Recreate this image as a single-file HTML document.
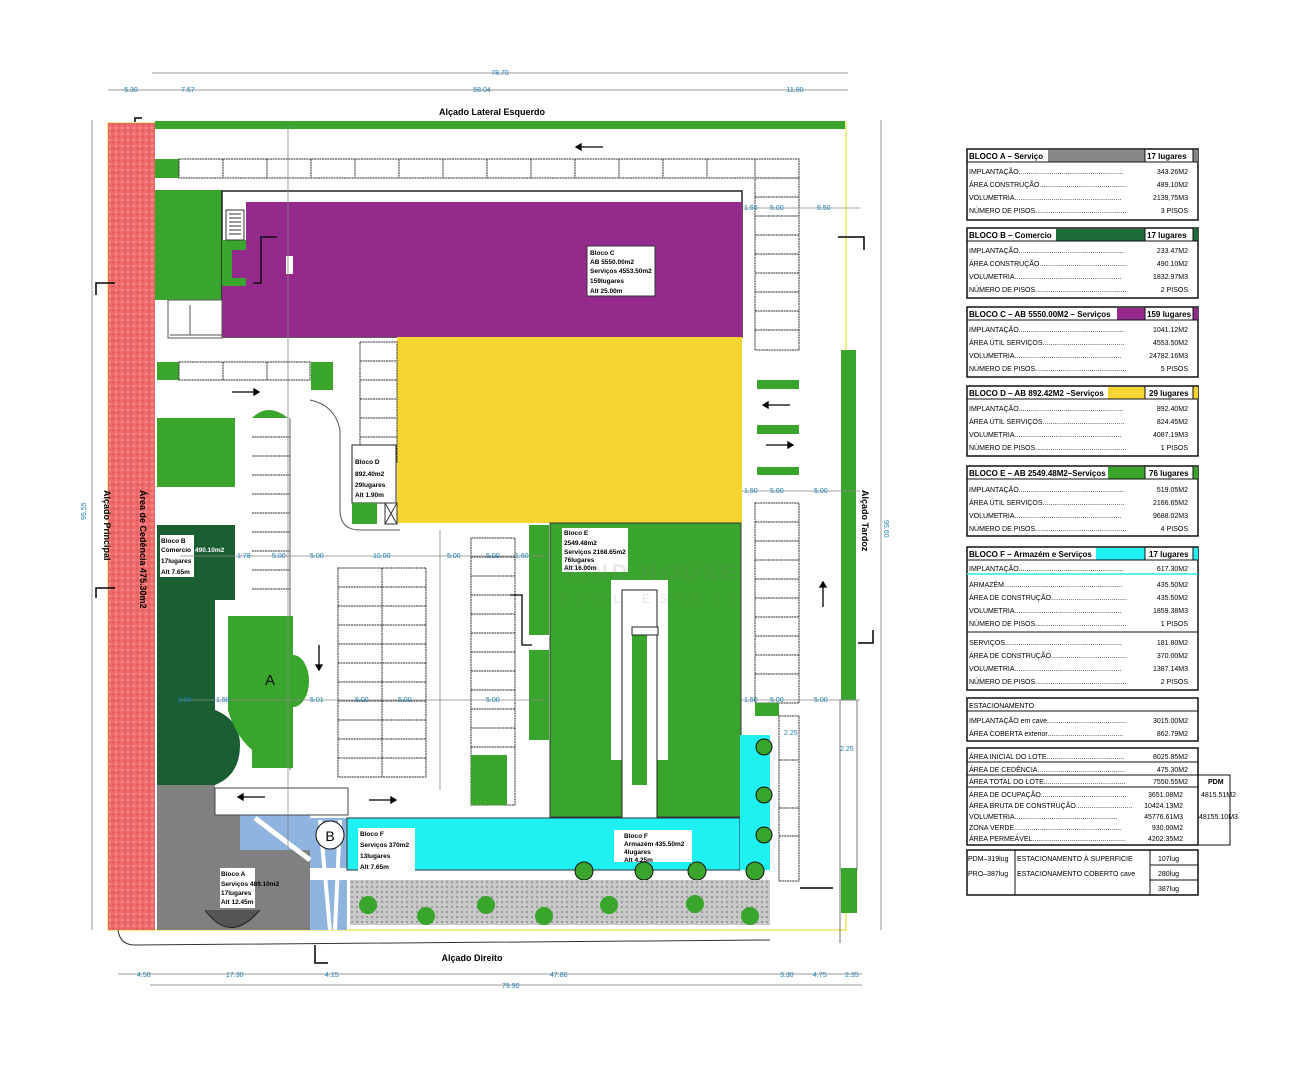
<!DOCTYPE html>
<html><head><meta charset="utf-8"><style>
html,body{margin:0;padding:0;background:#fff;}
svg{display:block;}
text{font-family:"Liberation Sans Narrow","Liberation Sans",sans-serif;}
.d{fill:#1a7fb5;font-size:7px;}
.t{font-size:8px;font-weight:bold;fill:#000;}
.r{font-size:7px;fill:#000;}
.l{font-size:6.5px;fill:#000;font-weight:bold;}
.pk{stroke:#333;stroke-width:1;fill:none;stroke-dasharray:2 0.6;}
</style></head><body>
<svg width="1305" height="1080" viewBox="0 0 1305 1080" xmlns="http://www.w3.org/2000/svg">
<defs>
<pattern id="red" width="6" height="6" patternUnits="userSpaceOnUse"><rect width="6" height="6" fill="#ee6b6b"/><circle cx="2" cy="2" r="1" fill="#f7a0a0"/><circle cx="5" cy="4.5" r="0.8" fill="#d94a4a"/></pattern>
<pattern id="gr" width="5" height="5" patternUnits="userSpaceOnUse"><rect width="5" height="5" fill="#c8c8c8"/><rect x="1" y="1" width="2" height="2" fill="#9a9a9a"/></pattern>
</defs>

<!-- top dimensions -->
<line x1="152" y1="73" x2="848" y2="73" stroke="#999" stroke-width="1"/>
<text class="d" x="500" y="75" text-anchor="middle">78.70</text>
<line x1="108" y1="90" x2="848" y2="90" stroke="#999" stroke-width="1"/>
<text class="d" x="131" y="92" text-anchor="middle">5.30</text>
<text class="d" x="188" y="92" text-anchor="middle">7.67</text>
<text class="d" x="482" y="92" text-anchor="middle">58.04</text>
<text class="d" x="795" y="92" text-anchor="middle">11.90</text>
<text x="492" y="115" text-anchor="middle" style="font-size:9px;font-weight:bold">Alçado Lateral Esquerdo</text>
<path d="M135 125 V118 H142" stroke="#000" fill="none" stroke-width="1.5"/>

<!-- site -->
<rect x="108" y="123" width="738" height="807" fill="#fff" stroke="#f2ee8a" stroke-width="2"/>
<rect x="108" y="123" width="47" height="807" fill="url(#red)"/>
<rect x="155" y="121" width="690" height="8" fill="#3aa52d"/>

<!-- top parking row -->
<rect x="155" y="159" width="24" height="19" fill="#3aa52d"/>
<rect x="179" y="159" width="620" height="19" class="pk"/>
<g class="pk"><path d="M223 159v19M267 159v19M311 159v19M355 159v19M399 159v19M443 159v19M487 159v19M531 159v19M575 159v19M619 159v19M663 159v19M707 159v19M755 159v19"/></g>

<!-- left greens -->
<rect x="155" y="190" width="67" height="110" fill="#3aa52d"/>
<rect x="157" y="362" width="22" height="18" fill="#3aa52d"/>
<rect x="179" y="362" width="131" height="18" class="pk"/>
<path class="pk" d="M223 362v18M267 362v18"/>
<rect x="157" y="418" width="78" height="69" fill="#3aa52d"/>
<rect x="311" y="362" width="22" height="28" fill="#3aa52d"/>
<path d="M252 418 Q268 402 288 418 Z" fill="#3aa52d"/>
<g class="pk"><path d="M252 437h38M252 456h38M252 475h38M252 494h38M252 513h38M252 532h38M252 551h38M252 570h38M252 589h38"/></g>
<line x1="290" y1="418" x2="290" y2="770" stroke="#666"/>
<path d="M310 400 Q335 405 340 430 V510 Q340 530 360 530 H400" stroke="#555" fill="none"/>

<!-- building C -->
<rect x="222" y="191" width="520" height="146" fill="#fff" stroke="#222" stroke-width="1.5"/>
<rect x="246" y="202" width="496" height="135" fill="#932a8c"/>
<rect x="222" y="286" width="30" height="51" fill="#932a8c"/>
<rect x="222" y="240" width="24" height="46" fill="#3aa52d"/>
<rect x="232" y="250" width="14" height="28" fill="#932a8c"/>
<rect x="226" y="210" width="18" height="30" fill="#fff" stroke="#333"/>
<path d="M229 214h12M229 218h12M229 222h12M229 226h12M229 230h12M229 234h12" stroke="#333"/>
<path d="M277 237h-16v46h-8" stroke="#111" stroke-width="1.5" fill="none"/>
<rect x="168" y="300" width="54" height="38" fill="#fff" stroke="#555"/>
<path d="M170 335h52M190 305v30" stroke="#555"/>
<rect x="587" y="246" width="68" height="50" fill="#fff" stroke="#333"/>
<text class="l" x="590" y="255">Bloco C</text><text class="l" x="590" y="264">AB 5550.00m2</text><text class="l" x="590" y="273">Serviços 4553.50m2</text><text class="l" x="590" y="283">159lugares</text><text class="l" x="590" y="293">Alt 25.00m</text>
<rect x="286" y="256" width="7" height="18" fill="#fff"/>

<!-- yellow D -->
<rect x="397" y="337" width="345" height="186" fill="#f5d531"/>
<rect x="360" y="342" width="37" height="120" class="pk"/>
<path class="pk" d="M360 361h37M360 380h37M360 399h37M360 418h37M360 437h37"/>
<rect x="352" y="445" width="44" height="58" fill="#fff" stroke="#222"/>
<text class="l" x="355" y="464">Bloco D</text><text class="l" x="355" y="476">892.40m2</text><text class="l" x="355" y="487">29lugares</text><text class="l" x="355" y="497">Alt 1.90m</text>
<rect x="352" y="503" width="25" height="21" fill="#3aa52d"/>
<rect x="385" y="503" width="12" height="21" fill="#fff" stroke="#333"/>
<path d="M385 503l12 21M397 503l-12 21" stroke="#333"/>

<!-- right parking -->
<rect x="755" y="178" width="44" height="172" class="pk"/>
<path class="pk" d="M755 197h44M755 216h44M755 235h44M755 254h44M755 273h44M755 292h44M755 311h44M755 330h44"/>
<rect x="757" y="380" width="42" height="9" fill="#3aa52d"/>
<rect x="757" y="425" width="42" height="9" fill="#3aa52d"/>
<rect x="757" y="467" width="42" height="8" fill="#3aa52d"/>
<rect x="755" y="503" width="44" height="200" class="pk"/>
<path class="pk" d="M755 522h44M755 541h44M755 560h44M755 579h44M755 598h44M755 617h44M755 636h44M755 655h44M755 674h44"/>
<rect x="755" y="703" width="24" height="13" fill="#3aa52d"/>
<rect x="779" y="716" width="20" height="165" class="pk"/>
<path class="pk" d="M779 760h20M779 808h20M779 836h20"/>
<rect x="841" y="350" width="15" height="353" fill="#3aa52d"/>
<rect x="840" y="700" width="17" height="170" fill="#fff" stroke="#777"/>
<rect x="841" y="868" width="16" height="45" fill="#3aa52d"/>
<line x1="800" y1="888" x2="833" y2="888" stroke="#000" stroke-width="1.5"/>
<line x1="840" y1="870" x2="840" y2="943" stroke="#777"/>

<!-- Bloco B dark green -->
<path d="M157 525 H235 V600 H215 V710 Q240 720 240 745 Q240 775 215 785 H157 Z" fill="#1b5e33"/>
<rect x="160" y="535" width="65" height="42" fill="#1b5e33"/>
<rect x="160" y="535" width="34" height="42" fill="#fff"/>
<text class="l" x="161" y="543">Bloco B</text><text class="l" x="161" y="552">Comercio</text><text class="l" x="161" y="563">17lugares</text><text class="l" x="161" y="574">Alt 7.65m</text>
<text class="l" x="195" y="552" style="fill:#fff">490.10m2</text>
<path d="M228 616 H293 V768 H252 V750 Q235 735 228 710 Z" fill="#3aa52d"/>
<path d="M293 655 A16 26 0 0 1 293 707 Z" fill="#3aa52d"/>
<text x="270" y="685" text-anchor="middle" style="font-size:15px;fill:#111">A</text>

<!-- grey Bloco A -->
<path d="M157 785 H215 V815 H240 V850 H310 V930 H157 Z" fill="#808080"/>
<rect x="240" y="815" width="70" height="35" fill="#8fb4e0"/>
<path d="M310 818 H347 V930 H310 Z" fill="#8fb4e0"/>
<path d="M255 818 L310 860" stroke="#fff" stroke-width="5"/>
<path d="M320 820 L330 930 M340 820 L335 930" stroke="#fff" stroke-width="4"/>
<rect x="310" y="868" width="37" height="12" fill="#fff"/>
<circle cx="330" cy="835" r="14" fill="#fff" stroke="#111"/>
<text x="330" y="841" text-anchor="middle" style="font-size:14px">B</text>
<rect x="220" y="868" width="35" height="40" fill="#fff"/>
<text class="l" x="221" y="876">Bloco A</text><text class="l" x="221" y="886">Serviços 489.10m2</text><text class="l" x="221" y="895">17lugares</text><text class="l" x="221" y="904">Alt 12.45m</text>
<path d="M205 910 Q230 945 260 910" stroke="#222" fill="#555"/>

<!-- road arrows etc -->
<rect x="215" y="788" width="133" height="27" fill="#fff" stroke="#444"/>
<g stroke="#000" stroke-width="1.3" fill="#000">
<path d="M603 147h-25"/><path d="M576 147l5-3v6z"/>
<path d="M232 392h25"/><path d="M259 392l-5-3v6z"/>
<path d="M790 405h-25"/><path d="M763 405l5-3v6z"/>
<path d="M766 445h25"/><path d="M793 445l-5-3v6z"/>
<path d="M265 797h-25"/><path d="M238 797l5-3v6z"/>
<path d="M369 800h25"/><path d="M396 800l-5-3v6z"/>
<path d="M319 645v22"/><path d="M319 670l-3-5h6z"/>
<path d="M823 607v-22"/><path d="M823 582l-3 5h6z"/>
</g>

<!-- parking grid -->
<rect x="338" y="568" width="88" height="209" class="pk"/>
<path class="pk" d="M382 568v209M338 587h88M338 606h88M338 625h88M338 644h88M338 663h88M338 682h88M338 701h88M338 720h88M338 739h88M338 758h88"/>
<rect x="471" y="538" width="44" height="267" class="pk"/>
<path class="pk" d="M471 557h44M471 576h44M471 595h44M471 614h44M471 633h44M471 652h44M471 671h44M471 690h44M471 709h44M471 728h44M471 747h44"/>
<rect x="471" y="755" width="36" height="50" fill="#3aa52d"/>
<rect x="529" y="525" width="20" height="110" fill="#3aa52d"/>
<rect x="529" y="650" width="20" height="90" fill="#3aa52d"/>
<path d="M510 595h12v50h10" stroke="#000" fill="none" stroke-width="1.3"/>

<!-- Bloco E -->
<rect x="550" y="523" width="191" height="294" fill="#3aa52d" stroke="#333"/>
<rect x="611" y="580" width="57" height="180" fill="#fff"/>
<rect x="622" y="590" width="35" height="230" fill="#fff" stroke="#222"/>
<rect x="632" y="635" width="15" height="150" fill="#3aa52d"/>
<rect x="632" y="627" width="26" height="8" fill="#fff" stroke="#222"/>
<rect x="562" y="528" width="66" height="44" fill="#fff"/>
<text class="l" x="564" y="535">Bloco E</text><text class="l" x="564" y="545">2549.48m2</text><text class="l" x="564" y="554">Serviços 2168.65m2</text><text class="l" x="564" y="562">76lugares</text><text class="l" x="564" y="570">Alt 16.00m</text>
<text x="652" y="580" text-anchor="middle" style="font-size:22px;font-weight:bold;fill:rgba(120,120,120,0.18);letter-spacing:4px">FIND HOUSE</text>
<text x="652" y="603" text-anchor="middle" style="font-size:13px;fill:rgba(120,120,120,0.18);letter-spacing:9px">REAL ESTATE</text>

<!-- Bloco F cyan -->
<rect x="347" y="818" width="393" height="52" fill="#1ff0f2" stroke="#333"/>
<rect x="740" y="735" width="30" height="135" fill="#1ff0f2"/>
<rect x="358" y="828" width="57" height="43" fill="#fff"/>
<text class="l" x="360" y="836">Bloco F</text><text class="l" x="360" y="847">Serviços 370m2</text><text class="l" x="360" y="858">13lugares</text><text class="l" x="360" y="869">Alt 7.65m</text>
<rect x="614" y="830" width="78" height="32" fill="#fff"/>
<text class="l" x="624" y="838">Bloco F</text><text class="l" x="624" y="846">Armazém 435.50m2</text><text class="l" x="624" y="854">4lugares</text><text class="l" x="624" y="862">Alt 4.25m</text>
<g fill="#3aa52d" stroke="#111">
<circle cx="584" cy="871" r="9"/><circle cx="644" cy="871" r="9"/><circle cx="697" cy="871" r="9"/><circle cx="755" cy="871" r="9"/>
<circle cx="764" cy="747" r="8"/><circle cx="764" cy="795" r="8"/><circle cx="764" cy="835" r="8"/>
</g>
<rect x="350" y="880" width="420" height="45" fill="url(#gr)"/>
<g fill="#3aa52d">
<circle cx="368" cy="905" r="9"/><circle cx="426" cy="916" r="9"/><circle cx="486" cy="905" r="9"/><circle cx="544" cy="916" r="9"/>
<circle cx="609" cy="905" r="9"/><circle cx="695" cy="904" r="9"/><circle cx="750" cy="916" r="9"/>
</g>

<!-- dimension chains -->
<g stroke="#888" stroke-width="0.8">
<line x1="288" y1="125" x2="288" y2="850"/><line x1="180" y1="556" x2="545" y2="556"/><line x1="180" y1="700" x2="545" y2="700"/>
<line x1="440" y1="530" x2="440" y2="790"/><line x1="742" y1="208" x2="860" y2="208"/><line x1="742" y1="491" x2="860" y2="491"/><line x1="742" y1="700" x2="860" y2="700"/>
</g>
<g class="d">
<text x="272" y="558">5.00</text><text x="310" y="558">5.00</text><text x="373" y="558">10.00</text><text x="447" y="558">5.00</text><text x="486" y="558">5.00</text><text x="515" y="558">1.60</text><text x="237" y="558">1.78</text>
<text x="178" y="702">6.55</text><text x="216" y="702">1.50</text><text x="310" y="702">5.01</text><text x="355" y="702">5.00</text><text x="398" y="702">5.00</text><text x="486" y="702">5.00</text>
<text x="744" y="210">1.50</text><text x="770" y="210">5.00</text><text x="817" y="210">5.50</text>
<text x="744" y="493">1.50</text><text x="770" y="493">5.00</text><text x="814" y="493">5.00</text>
<text x="744" y="702">1.50</text><text x="770" y="702">5.00</text><text x="814" y="702">5.00</text>
<text x="784" y="735">2.25</text><text x="840" y="751">2.25</text>
</g>

<!-- labels vertical -->
<text transform="translate(104,490) rotate(90)" style="font-size:9px;font-weight:bold">Alçado Principal</text>
<text transform="translate(140,490) rotate(90)" style="font-size:9px;font-weight:bold">Área de Cedência 475.30m2</text>
<text transform="translate(862,490) rotate(90)" style="font-size:9px;font-weight:bold">Alçado Tardoz</text>
<text class="d" transform="translate(86,520) rotate(-90)">95.55</text>
<text class="d" transform="translate(884,520) rotate(90)">95.60</text>
<line x1="92" y1="120" x2="92" y2="930" stroke="#999"/>
<line x1="881" y1="120" x2="881" y2="930" stroke="#999"/>
<path d="M96 295 V283 H115" stroke="#000" fill="none" stroke-width="1.5"/>
<path d="M96 598 V588 H115" stroke="#000" fill="none" stroke-width="1.5"/>
<path d="M838 237 H864 V250" stroke="#000" fill="none" stroke-width="1.5"/>
<path d="M858 643 H873 V630" stroke="#000" fill="none" stroke-width="1.5"/>

<!-- bottom -->
<path d="M118 930 Q120 945 135 945 L770 940" stroke="#333" fill="none"/>
<path d="M315 945 V963 H328" stroke="#000" fill="none" stroke-width="1.5"/>
<text x="472" y="961" text-anchor="middle" style="font-size:9px;font-weight:bold">Alçado Direito</text>
<line x1="118" y1="974" x2="862" y2="974" stroke="#999"/>
<line x1="150" y1="985" x2="862" y2="985" stroke="#999"/>
<g class="d">
<text x="137" y="977">4.50</text><text x="226" y="977">17.30</text><text x="325" y="977">4.15</text><text x="550" y="977">47.86</text><text x="780" y="977">3.30</text><text x="813" y="977">4.75</text><text x="845" y="977">2.35</text>
<text x="502" y="988">79.90</text>
</g>

<!-- TABLE -->
<g stroke="#111" fill="none" stroke-width="1.5">
<rect x="967" y="149" width="231" height="71"/>
<rect x="967" y="228" width="231" height="70"/>
<rect x="967" y="307" width="231" height="70"/>
<rect x="967" y="386" width="231" height="70"/>
<rect x="967" y="466" width="231" height="70"/>
<rect x="967" y="547" width="231" height="143"/>
<rect x="967" y="698" width="231" height="43"/>
<rect x="967" y="748" width="231" height="97"/>
<rect x="967" y="850" width="231" height="45"/>
</g>
<rect x="1048" y="150" width="97" height="12" fill="#888"/><rect x="1193" y="150" width="5" height="12" fill="#888"/>
<rect x="1056" y="229" width="89" height="12" fill="#1e6b3a"/><rect x="1193" y="229" width="5" height="12" fill="#1e6b3a"/>
<rect x="1117" y="308" width="28" height="12" fill="#932a8c"/><rect x="1193" y="308" width="5" height="12" fill="#932a8c"/>
<rect x="1108" y="387" width="37" height="12" fill="#f5d531"/><rect x="1193" y="387" width="5" height="12" fill="#f5d531"/>
<rect x="1108" y="467" width="37" height="12" fill="#3aa52d"/><rect x="1193" y="467" width="5" height="12" fill="#3aa52d"/>
<rect x="1096" y="548" width="49" height="12" fill="#1ff0f2"/><rect x="1193" y="548" width="5" height="12" fill="#1ff0f2"/>
<line x1="967" y1="574" x2="1198" y2="574" stroke="#1ff0f2" stroke-width="1.5"/>
<g stroke="#111" stroke-width="1" fill="none">
<path d="M967 162h231M967 241h231M967 320h231M967 399h231M967 479h231M967 560h231M967 632h231M967 711h231"/>
<path d="M967 762h231M967 775h231M967 787h231M1198 775h32v70h-32"/>
<path d="M1015 850v45M1150 850v45M1150 865h48M1150 880h48"/>
<path d="M1145 149v13M1193 149v13M1145 228v13M1193 228v13M1145 307v13M1193 307v13M1145 386v13M1193 386v13M1145 466v13M1193 466v13M1145 547v13M1193 547v13"/>
</g>
<g class="t">
<text x="969" y="159">BLOCO A – Serviço</text><text x="1147" y="159">17 lugares</text>
<text x="969" y="238">BLOCO B – Comercio</text><text x="1147" y="238">17 lugares</text>
<text x="969" y="317">BLOCO C – AB 5550.00M2 – Serviços</text><text x="1147" y="317">159 lugares</text>
<text x="969" y="396">BLOCO D – AB 892.42M2 –Serviços</text><text x="1149" y="396">29 lugares</text>
<text x="969" y="476">BLOCO E – AB 2549.48M2–Serviços</text><text x="1149" y="476">76 lugares</text>
<text x="969" y="557">BLOCO F – Armazém e Serviços</text><text x="1149" y="557">17 lugares</text>
</g>
<g class="r">
<text x="969" y="174">IMPLANTAÇÃO......................................................</text><text x="1188" y="174" text-anchor="end">343.26M2</text>
<text x="969" y="187">ÁREA CONSTRUÇÃO.............................................</text><text x="1188" y="187" text-anchor="end">489.10M2</text>
<text x="969" y="200">VOLUMETRIA.......................................................</text><text x="1188" y="200" text-anchor="end">2139,75M3</text>
<text x="969" y="213">NÚMERO DE PISOS...............................................</text><text x="1188" y="213" text-anchor="end">3 PISOS</text>
<text x="969" y="253">IMPLANTAÇÃO......................................................</text><text x="1188" y="253" text-anchor="end">233.47M2</text>
<text x="969" y="266">ÁREA CONSTRUÇÃO.............................................</text><text x="1188" y="266" text-anchor="end">490.10M2</text>
<text x="969" y="279">VOLUMETRIA.......................................................</text><text x="1188" y="279" text-anchor="end">1832.97M3</text>
<text x="969" y="292">NÚMERO DE PISOS...............................................</text><text x="1188" y="292" text-anchor="end">2 PISOS</text>
<text x="969" y="332">IMPLANTAÇÃO......................................................</text><text x="1188" y="332" text-anchor="end">1041.12M2</text>
<text x="969" y="345">ÁREA ÚTIL SERVIÇOS..........................................</text><text x="1188" y="345" text-anchor="end">4553.50M2</text>
<text x="969" y="358">VOLUMETRIA.......................................................</text><text x="1188" y="358" text-anchor="end">24782.16M3</text>
<text x="969" y="371">NÚMERO DE PISOS...............................................</text><text x="1188" y="371" text-anchor="end">5 PISOS</text>
<text x="969" y="411">IMPLANTAÇÃO......................................................</text><text x="1188" y="411" text-anchor="end">892.40M2</text>
<text x="969" y="424">ÁREA ÚTIL SERVIÇOS..........................................</text><text x="1188" y="424" text-anchor="end">824.45M2</text>
<text x="969" y="437">VOLUMETRIA.......................................................</text><text x="1188" y="437" text-anchor="end">4087.19M3</text>
<text x="969" y="450">NÚMERO DE PISOS...............................................</text><text x="1188" y="450" text-anchor="end">1 PISOS</text>
<text x="969" y="492">IMPLANTAÇÃO......................................................</text><text x="1188" y="492" text-anchor="end">519.05M2</text>
<text x="969" y="505">ÁREA ÚTIL SERVIÇOS..........................................</text><text x="1188" y="505" text-anchor="end">2166.65M2</text>
<text x="969" y="518">VOLUMETRIA.......................................................</text><text x="1188" y="518" text-anchor="end">9688.02M3</text>
<text x="969" y="531">NÚMERO DE PISOS...............................................</text><text x="1188" y="531" text-anchor="end">4 PISOS</text>
<text x="969" y="571">IMPLANTAÇÃO......................................................</text><text x="1188" y="571" text-anchor="end">617.30M2</text>
<text x="969" y="587">ARMAZÉM.............................................................</text><text x="1188" y="587" text-anchor="end">435.50M2</text>
<text x="969" y="600">ÁREA DE CONSTRUÇÃO.......................................</text><text x="1188" y="600" text-anchor="end">435.50M2</text>
<text x="969" y="613">VOLUMETRIA.......................................................</text><text x="1188" y="613" text-anchor="end">1859.38M3</text>
<text x="969" y="626">NÚMERO DE PISOS...............................................</text><text x="1188" y="626" text-anchor="end">1 PISOS</text>
<text x="969" y="645">SERVIÇOS............................................................</text><text x="1188" y="645" text-anchor="end">181.80M2</text>
<text x="969" y="658">ÁREA DE CONSTRUÇÃO.......................................</text><text x="1188" y="658" text-anchor="end">370.00M2</text>
<text x="969" y="671">VOLUMETRIA.......................................................</text><text x="1188" y="671" text-anchor="end">1387.14M3</text>
<text x="969" y="684">NÚMERO DE PISOS...............................................</text><text x="1188" y="684" text-anchor="end">2 PISOS</text>
<text x="969" y="708">ESTACIONAMENTO</text>
<text x="969" y="723">IMPLANTAÇÃO em cave.........................................</text><text x="1188" y="723" text-anchor="end">3015.00M2</text>
<text x="969" y="736">ÁREA COBERTA exterior.......................................</text><text x="1188" y="736" text-anchor="end">862.79M2</text>
<text x="969" y="759">ÁREA INICIAL DO LOTE........................................</text><text x="1188" y="759" text-anchor="end">8025.85M2</text>
<text x="969" y="772">ÁREA DE CEDÊNCIA.............................................</text><text x="1188" y="772" text-anchor="end">475.30M2</text>
<text x="969" y="784">ÁREA TOTAL DO LOTE..........................................</text><text x="1188" y="784" text-anchor="end">7550.55M2</text>
<text x="969" y="797">ÁREA DE OCUPAÇÃO............................................</text><text x="1183" y="797" text-anchor="end">3651.08M2</text>
<text x="969" y="808">ÁREA BRUTA DE CONSTRUÇÃO.............................</text><text x="1183" y="808" text-anchor="end">10424.13M2</text>
<text x="969" y="819">VOLUMETRIA.....................................................</text><text x="1183" y="819" text-anchor="end">45776.61M3</text>
<text x="969" y="830">ZONA VERDE.......................................................</text><text x="1183" y="830" text-anchor="end">930.00M2</text>
<text x="969" y="841">ÁREA PERMEÁVEL................................................</text><text x="1183" y="841" text-anchor="end">4202.35M2</text>
<text x="1208" y="784" style="font-weight:bold">PDM</text><text x="1201" y="797">4815.51M2</text><text x="1199" y="819">48155.10M3</text>
<text x="968" y="861">PDM–319lug</text><text x="1017" y="861">ESTACIONAMENTO À SUPERFICIE</text><text x="1158" y="861">107lug</text>
<text x="968" y="876">PRO–387lug</text><text x="1017" y="876">ESTACIONAMENTO COBERTO cave</text><text x="1158" y="876">280lug</text>
<text x="1158" y="891">387lug</text>
</g>
</svg>
</body></html>
